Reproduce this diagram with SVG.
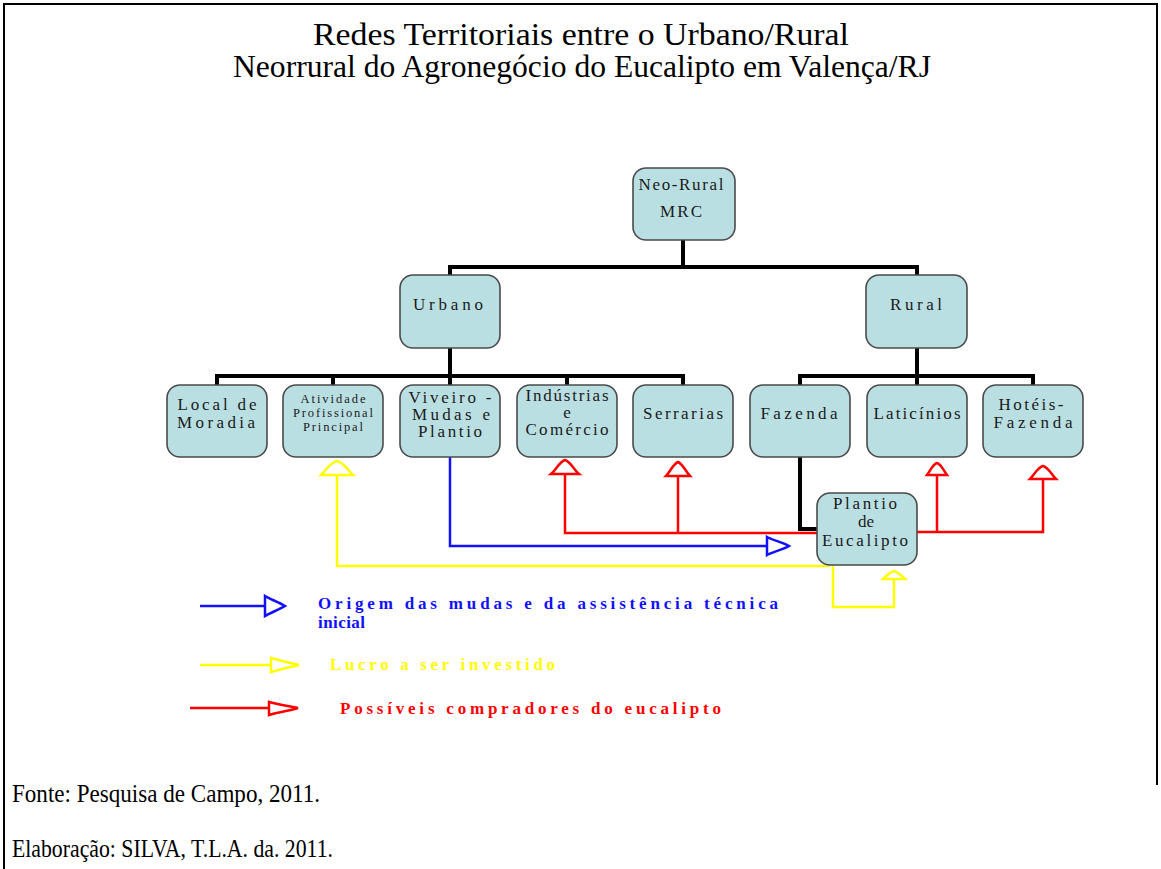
<svg xmlns="http://www.w3.org/2000/svg" width="1161" height="869" viewBox="0 0 1161 869">
  <style>
    .frame { fill: none; stroke: #000; stroke-width: 2; }
    .box { fill: #badfe2; stroke: #4a4a4a; stroke-width: 1.6; }
    .lbl { font-family: "Liberation Serif", "Times New Roman", serif; font-size: 17px; fill: #1a1a1a; text-anchor: middle; }
    .sm { font-size: 12.5px; }
    .title { font-family: "Liberation Serif", "Times New Roman", serif; font-size: 31px; fill: #000; text-anchor: middle; }
    .foot { font-family: "Liberation Serif", "Times New Roman", serif; font-size: 25px; fill: #000; }
    .tree { fill: none; stroke: #000; stroke-width: 4; }
    .blue { fill: none; stroke: #1010ff; stroke-width: 2.5; }
    .yel { fill: none; stroke: #ffff00; stroke-width: 2.5; }
    .red { fill: none; stroke: #ff0000; stroke-width: 2.5; }
    .head-b { fill: #fff; stroke: #1010ff; stroke-width: 2.5; }
    .head-y { fill: #fff; stroke: #ffff00; stroke-width: 2.5; }
    .head-r { fill: #fff; stroke: #ff0000; stroke-width: 2.5; }
    .leg { font-family: "Liberation Serif", "Times New Roman", serif; font-size: 17px; font-weight: bold; }
  </style>

  <!-- page frame -->
  <path class="frame" d="M4,869 V4 H1157 V785"/>

  <!-- title -->
  <text class="title" x="581" y="45" textLength="536" lengthAdjust="spacingAndGlyphs">Redes Territoriais entre o Urbano/Rural</text>
  <text class="title" x="582" y="77" textLength="698" lengthAdjust="spacingAndGlyphs">Neorrural do Agronegócio do Eucalipto em Valença/RJ</text>

  <!-- hierarchy and flow connectors -->
  <g id="connectors">
    <path class="tree" d="M683,240 V267 M450,275 V267 H917 V275"/>
    <path class="tree" d="M450,348 V376 M217,385 V376 H683 V385 M333,376 V385 M450,376 V385 M567,376 V385"/>
    <path class="tree" d="M917,348 V376 M800,385 V376 H1033 V385 M917,376 V385"/>
    <path class="tree" d="M800,457 V529 H817"/>

    <!-- seedlings / technical assistance -->
    <path class="blue" d="M450,457 V546 H767"/>
    <path class="head-b" d="M767,537 V555 C772,552 782,550 789,546 C782,542 772,540 767,537 Z"/>

    <!-- buyers -->
    <path class="red" d="M817,533 H565 V474 M678,533 V476"/>
    <path class="head-r" d="M551,474 H579 C574,470 571,462 565,460 C559,462 556,470 551,474 Z"/>
    <path class="head-r" d="M666,476 H690 C686,472 683,464 678,462 C673,464 670,472 666,476 Z"/>
    <path class="red" d="M917,532 H1043 V479 M937,532 V475"/>
    <path class="head-r" d="M927,475 H947 C944,471 941,464 937,463 C933,464 930,471 927,475 Z"/>
    <path class="head-r" d="M1030,479 H1056 C1052,475 1048,467 1043,466 C1038,467 1034,475 1030,479 Z"/>

    <!-- profit to reinvest -->
    <path class="yel" d="M830,566 H337 V475"/>
    <path class="head-y" d="M321,475 H353 C348,470 343,462 337,461 C331,462 326,470 321,475 Z"/>
    <path class="yel" d="M833,566 V607 H894 V579"/>
    <path class="head-y" d="M883,579 H905 C902,576 898,572 894,571 C890,572 886,576 883,579 Z"/>
  </g>

  <!-- nodes -->
  <g id="neo-rural">
    <rect class="box" x="633" y="168" width="102" height="72" rx="13"/>
    <text class="lbl" x="681" y="190" font-size="14" textLength="85" lengthAdjust="spacing">Neo-Rural</text>
    <text class="lbl" x="681" y="217" font-size="15" textLength="42" lengthAdjust="spacing">MRC</text>
  </g>
  <g id="urbano">
    <rect class="box" x="400" y="275" width="100" height="73" rx="13"/>
    <text class="lbl" x="448" y="310" font-size="15.5" textLength="70" lengthAdjust="spacing">Urbano</text>
  </g>
  <g id="rural">
    <rect class="box" x="866" y="275" width="101" height="73" rx="13"/>
    <text class="lbl" x="916" y="310" font-size="15.5" textLength="52" lengthAdjust="spacing">Rural</text>
  </g>
  <g id="local-moradia">
    <rect class="box" x="167" y="385" width="100" height="72" rx="13"/>
    <text class="lbl" x="217" y="410" textLength="79" lengthAdjust="spacing">Local de</text>
    <text class="lbl" x="216" y="428" textLength="78" lengthAdjust="spacing">Moradia</text>
  </g>
  <g id="atividade">
    <rect class="box" x="283" y="385" width="100" height="72" rx="13"/>
    <text class="lbl sm" x="333" y="403" textLength="65" lengthAdjust="spacing">Atividade</text>
    <text class="lbl sm" x="333" y="417" textLength="80" lengthAdjust="spacing">Profissional</text>
    <text class="lbl sm" x="333" y="431" textLength="60" lengthAdjust="spacing">Principal</text>
  </g>
  <g id="viveiro">
    <rect class="box" x="400" y="385" width="100" height="72" rx="13"/>
    <text class="lbl" x="450" y="403" font-size="16" textLength="83" lengthAdjust="spacing">Viveiro -</text>
    <text class="lbl" x="451" y="420" font-size="16" textLength="78" lengthAdjust="spacing">Mudas e</text>
    <text class="lbl" x="450" y="437" font-size="16" textLength="64" lengthAdjust="spacing">Plantio</text>
  </g>
  <g id="industrias">
    <rect class="box" x="517" y="385" width="100" height="72" rx="13"/>
    <text class="lbl" x="567" y="401" font-size="14.5" textLength="83" lengthAdjust="spacing">Indústrias</text>
    <text class="lbl" x="567" y="418" font-size="14.5">e</text>
    <text class="lbl" x="567" y="435" font-size="14.5" textLength="83" lengthAdjust="spacing">Comércio</text>
  </g>
  <g id="serrarias">
    <rect class="box" x="633" y="385" width="100" height="72" rx="13"/>
    <text class="lbl" x="683" y="419" textLength="80" lengthAdjust="spacing">Serrarias</text>
  </g>
  <g id="fazenda">
    <rect class="box" x="750" y="385" width="100" height="72" rx="13"/>
    <text class="lbl" x="799" y="419" textLength="77" lengthAdjust="spacing">Fazenda</text>
  </g>
  <g id="laticinios">
    <rect class="box" x="867" y="385" width="100" height="72" rx="13"/>
    <text class="lbl" x="917" y="419" textLength="87" lengthAdjust="spacing">Laticínios</text>
  </g>
  <g id="hoteis-fazenda">
    <rect class="box" x="983" y="385" width="100" height="72" rx="13"/>
    <text class="lbl" x="1031" y="410" textLength="65" lengthAdjust="spacing">Hotéis-</text>
    <text class="lbl" x="1033" y="428" textLength="79" lengthAdjust="spacing">Fazenda</text>
  </g>
  <g id="plantio-eucalipto">
    <rect class="box" x="817" y="493" width="100" height="72" rx="13"/>
    <text class="lbl" x="865" y="509" font-size="16" textLength="64" lengthAdjust="spacing">Plantio</text>
    <text class="lbl" x="866" y="527" font-size="16">de</text>
    <text class="lbl" x="865" y="546" font-size="16" textLength="86" lengthAdjust="spacing">Eucalipto</text>
  </g>

  <!-- legend -->
  <g id="legend">
    <path class="blue" d="M200,606 H265"/>
    <path class="head-b" d="M265,596 V616 C270,613 278,610 285,606 C278,602 270,599 265,596 Z"/>
    <text class="leg" x="318" y="609" fill="#1010ff" textLength="460" lengthAdjust="spacing">Origem das mudas e da assistência técnica</text>
    <text class="leg" x="318" y="628" fill="#1010ff" textLength="47" lengthAdjust="spacing">inicial</text>

    <path class="yel" d="M200,665 H271"/>
    <path class="head-y" d="M271,658 V672 C278,670 290,667 299,665 C290,663 278,660 271,658 Z"/>
    <text class="leg" x="330" y="670" fill="#ffff00" textLength="225" lengthAdjust="spacing">Lucro a ser investido</text>

    <path class="red" d="M190,708 H269"/>
    <path class="head-r" d="M269,702 V715 C276,713 288,711 298,708 C288,706 276,704 269,702 Z"/>
    <text class="leg" x="340" y="714" fill="#ff0000" textLength="381" lengthAdjust="spacing">Possíveis compradores do eucalipto</text>
  </g>

  <!-- source notes -->
  <text class="foot" x="12" y="802" textLength="308" lengthAdjust="spacingAndGlyphs">Fonte: Pesquisa de Campo, 2011.</text>
  <text class="foot" x="12" y="857" textLength="321" lengthAdjust="spacingAndGlyphs">Elaboração: SILVA, T.L.A. da. 2011.</text>
</svg>
